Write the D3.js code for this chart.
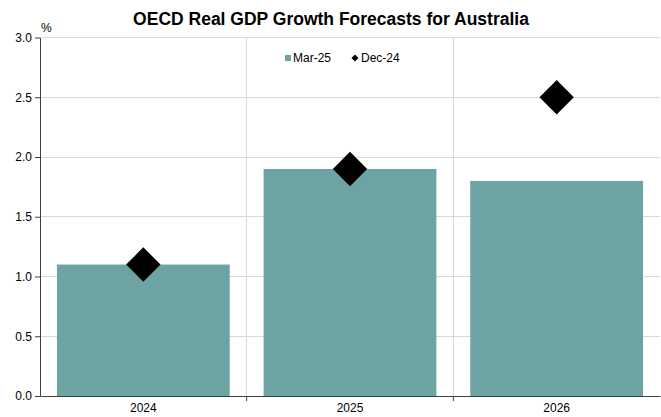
<!DOCTYPE html>
<html><head><meta charset="utf-8">
<script src="https://cdn.jsdelivr.net/npm/d3@7"></script>
<style>body{margin:0;background:#fff}svg{display:block}text{font-family:"Liberation Sans",Arial,sans-serif}</style>
</head><body><svg id="c" width="661" height="417"></svg>
<script>
const categories = ["2024", "2025", "2026"];
const mar25 = [1.1, 1.9, 1.8];
const dec24 = [1.1, 1.9, 2.5];
const yTicks = [0, 0.5, 1.0, 1.5, 2.0, 2.5, 3.0];

const svg = d3.select("#c");
const m = {l: 40, r: 1, t: 37.5, b: 21};
const W = 661, H = 417;
const x = d3.scaleBand().domain(categories).range([m.l, W - m.r]).paddingInner(0.164).paddingOuter(0.082);
const xb = d3.scaleBand().domain(categories).range([m.l, W - m.r]);
const y = d3.scaleLinear().domain([0, 3]).range([H - m.b, m.t]);

// gridlines
svg.append("g").selectAll("line").data(yTicks.slice(1)).join("line")
  .attr("x1", m.l).attr("x2", W - m.r).attr("y1", d => y(d)).attr("y2", d => y(d))
  .attr("stroke", "#d9d9d9").attr("stroke-width", 1).attr("shape-rendering", "crispEdges");
svg.append("g").selectAll("line").data(categories.slice(1)).join("line")
  .attr("x1", d => xb(d)).attr("x2", d => xb(d)).attr("y1", m.t).attr("y2", H - m.b)
  .attr("stroke", "#d9d9d9").attr("stroke-width", 1).attr("shape-rendering", "crispEdges");

// bars
svg.append("g").selectAll("rect").data(categories).join("rect")
  .attr("x", d => x(d)).attr("width", x.bandwidth())
  .attr("y", (d, i) => y(mar25[i])).attr("height", (d, i) => y(0) - y(mar25[i]))
  .attr("fill", "#6da3a2");

// diamonds
const dsym = d3.symbol().type(d3.symbolSquare).size(24.3 * 24.3);
svg.append("g").selectAll("path").data(categories).join("path")
  .attr("d", dsym)
  .attr("transform", (d, i) => `translate(${xb(d) + xb.bandwidth() / 2},${y(dec24[i])}) rotate(45)`)
  .attr("fill", "#000");

// y axis
const ya = svg.append("g").attr("transform", `translate(${m.l},0)`)
  .call(d3.axisLeft(y).tickValues(yTicks).tickFormat(d3.format(".1f")).tickSize(5).tickSizeOuter(0));
ya.select(".domain").attr("stroke", "#404040");
ya.selectAll(".tick line").attr("stroke", "#404040");
ya.selectAll("text").attr("font-size", 12).attr("fill", "#000").attr("x", -8);

// x axis
const xa = svg.append("g").attr("transform", `translate(0,${H - m.b})`)
  .call(d3.axisBottom(xb).tickSize(0).tickSizeOuter(0));
xa.select(".domain").attr("stroke", "#404040");
xa.selectAll("text").attr("font-size", 12).attr("fill", "#000").attr("dy", "1.05em");
svg.append("g").selectAll("line").data(categories.slice(1)).join("line")
  .attr("x1", d => xb(d)).attr("x2", d => xb(d)).attr("y1", H - m.b).attr("y2", H - m.b + 5)
  .attr("stroke", "#404040");

// title
svg.append("text").attr("x", 331).attr("y", 25).attr("text-anchor", "middle")
  .attr("font-size", 17.5).attr("font-weight", "bold").attr("fill", "#000")
  .text("OECD Real GDP Growth Forecasts for Australia");
svg.append("text").attr("x", 41).attr("y", 32).attr("font-size", 12).attr("fill", "#000").text("%");

// legend
const lg = svg.append("g");
lg.append("rect").attr("x", 285).attr("y", 55).attr("width", 6).attr("height", 6).attr("fill", "#6da3a2");
lg.append("text").attr("x", 293).attr("y", 62).attr("font-size", 12).attr("fill", "#000").text("Mar-25");
lg.append("path").attr("d", d3.symbol().type(d3.symbolSquare).size(25)).attr("transform", "translate(355,58) rotate(45)");
lg.append("text").attr("x", 361).attr("y", 62).attr("font-size", 12).attr("fill", "#000").text("Dec-24");
</script></body></html>
